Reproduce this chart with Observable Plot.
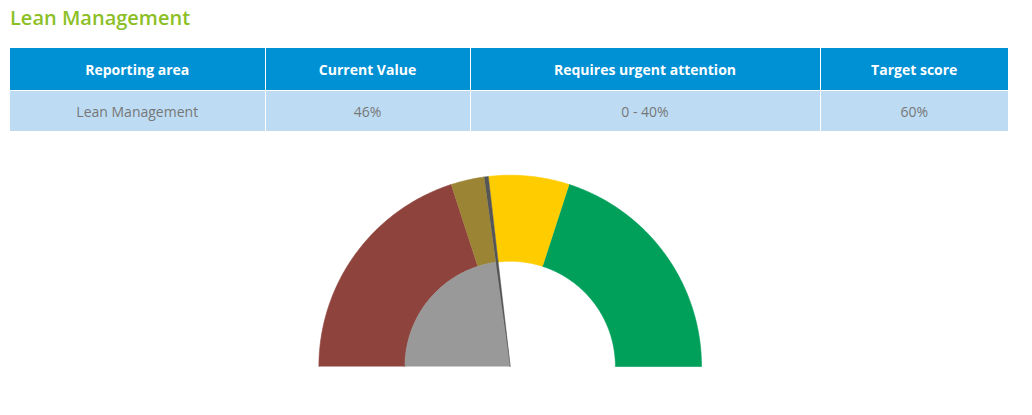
<!DOCTYPE html>
<html><head><meta charset="utf-8">
<script src="https://cdn.jsdelivr.net/npm/d3@7"></script>
<script src="https://cdn.jsdelivr.net/npm/@observablehq/plot@0.6"></script>
<style>
body{margin:0;background:#fff;font-family:"Open Sans",sans-serif;}
#title{position:absolute;left:10px;top:4px;margin:0;font-size:20px;font-weight:600;color:#8cbf26;}
table{position:absolute;left:10px;top:48px;width:998px;border-collapse:collapse;table-layout:fixed;font-size:14px;}
th{background:#0090d4;color:#fff;font-weight:700;height:42px;padding:0;border-right:1px solid #fff;border-bottom:1px solid #fff;}
td{background:#bddcf4;color:#777;height:40px;padding:0;text-align:center;border-right:1px solid #fff;}
th:last-child,td:last-child{border-right:none;}
#chart{position:absolute;left:0;top:131px;}
</style></head>
<body>
<div id="title">Lean Management</div>
<table id="tbl"></table>
<div id="chart"></div>
<script>
// Table content
const headers = ["Reporting area", "Current Value", "Requires urgent attention", "Target score"];
const rowValues = ["Lean Management", "46%", "0 - 40%", "60%"];
const colWidths = [255, 205, 350, 188];

// Gauge data (percent of gauge, 0 = left, 100 = right)
const currentValue = 46;
const urgentMax = 40;
const targetScore = 60;
const bandNames = ["Urgent", "Current", "Needle", "To target", "Above target"];
const bandStart = [0, 40, 45.65, 46.35, 60];
const bandEnd = [40, 45.65, 46.35, 60, 100];
const bandInner = [0.55, 0.55, 0, 0.55, 0.55];
const pieName = "Value";
const pieStart = 0;
const pieEnd = 46;

const colorDomain = ["Value", "Urgent", "Current", "Needle", "To target", "Above target"];
const colorRange = ["#999999", "#8e433d", "#9b8535", "#555555", "#ffcc00", "#00a05a"];

// build table
const tbl = document.getElementById("tbl");
const cg = document.createElement("colgroup");
colWidths.forEach(w => { const c = document.createElement("col"); c.style.width = w + "px"; cg.appendChild(c); });
tbl.appendChild(cg);
const trh = document.createElement("tr");
headers.forEach(h => { const th = document.createElement("th"); th.textContent = h; trh.appendChild(th); });
tbl.appendChild(trh);
const trd = document.createElement("tr");
rowValues.forEach(v => { const td = document.createElement("td"); td.textContent = v; trd.appendChild(td); });
tbl.appendChild(trd);

// polygon geometry for ring sectors
function sector(id, s, e, r0, r1) {
  const pts = [];
  const n = Math.max(2, Math.ceil((e - s) * 2));
  for (let i = 0; i <= n; i++) {
    const f = (s + (e - s) * i / n) / 100;
    const a = Math.PI * (1 - f);
    pts.push({id, x: r1 * Math.cos(a), y: r1 * Math.sin(a)});
  }
  for (let i = n; i >= 0; i--) {
    const f = (s + (e - s) * i / n) / 100;
    const a = Math.PI * (1 - f);
    pts.push({id, x: r0 * Math.cos(a), y: r0 * Math.sin(a)});
  }
  return pts;
}
const bandPts = bandNames.filter(d => d !== "Needle").flatMap(name => {
  const i = bandNames.indexOf(name);
  return sector(name, bandStart[i], bandEnd[i], bandInner[i], 1);
});
const piePts = sector(pieName, pieStart, pieEnd, 0, 0.55);
const ni = bandNames.indexOf("Needle");
const needlePts = sector("Needle", bandStart[ni], bandEnd[ni], bandInner[ni], 1);

const cy = 235, R = 191.3, cx = 509.7;
const chart = Plot.plot({
  width: 1032,
  height: 284,
  margin: 0,
  x: {domain: [-1, 1], range: [cx - R, cx + R], axis: null},
  y: {domain: [0, 1], range: [cy, cy - R], axis: null},
  color: {domain: colorDomain, range: colorRange},
  marks: [
    Plot.line(bandPts, {x: "x", y: "y", z: "id", fill: "id", stroke: "id", strokeWidth: 0.6}),
    Plot.line(piePts, {x: "x", y: "y", z: "id", fill: "id", stroke: "id", strokeWidth: 0.6}),
    Plot.line(needlePts, {x: "x", y: "y", z: "id", fill: "id", stroke: "id", strokeWidth: 0.5})
  ]
});
document.getElementById("chart").appendChild(chart);
</script>
</body></html>
